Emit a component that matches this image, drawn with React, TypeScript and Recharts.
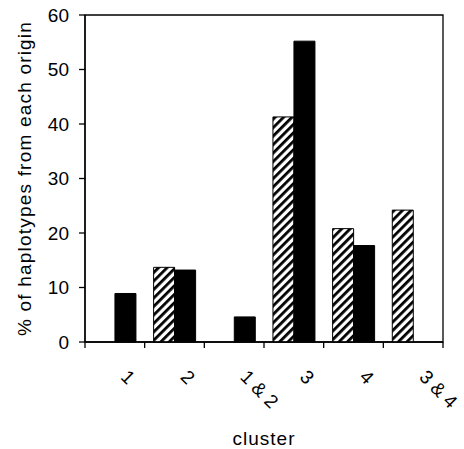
import React from "react";
import {
  BarChart,
  Bar,
  XAxis,
  YAxis,
  ReferenceArea,
} from "recharts";

const categories = ["1", "2", "1 & 2", "3", "4", "3 & 4"];
const hatchedValues = [0, 13.7, 0, 41.3, 20.8, 24.2];
const solidValues = [8.9, 13.2, 4.6, 55.2, 17.7, 0];
const yTicks = [0, 10, 20, 30, 40, 50, 60];

const data = categories.map((c, i) => ({
  cluster: c,
  hatched: hatchedValues[i],
  solid: solidValues[i],
}));

const FONT = "'Liberation Sans', Arial, sans-serif";
const W = 464;
const H = 449;
const M = { top: 15, right: 21, left: 0, bottom: 0 };
const Y_W = 85;
const BAND = (W - M.left - M.right - Y_W) / categories.length;

function ClusterTick(props: any) {
  const { x, y, payload, index } = props;
  const ax = x + 5;
  const ay = y + 36;
  return (
    <g>
      <line x1={x - BAND / 2} y1={y} x2={x - BAND / 2} y2={y + 6} stroke="#000" strokeWidth={1.3} />
      {index === categories.length - 1 && (
        <line x1={x + BAND / 2} y1={y} x2={x + BAND / 2} y2={y + 6} stroke="#000" strokeWidth={1.3} />
      )}
      <text
        x={ax}
        y={ay}
        transform={`rotate(45, ${ax}, ${ay})`}
        textAnchor="start"
        fontFamily={FONT}
        fontSize={19}
        fill="#000"
      >
        {payload.value}
      </text>
    </g>
  );
}

function YLabel(props: any) {
  const vb = props.viewBox;
  const cx = vb.x + 24;
  const cy = vb.y + vb.height / 2;
  return (
    <text
      x={cx}
      y={cy}
      transform={`rotate(-90, ${cx}, ${cy})`}
      textAnchor="middle"
      dominantBaseline="central"
      fontFamily={FONT}
      fontSize={19}
      letterSpacing={1.2}
      fill="#000"
    >
      % of haplotypes from each origin
    </text>
  );
}

function XLabel(props: any) {
  const vb = props.viewBox;
  return (
    <text
      x={vb.x + vb.width / 2}
      y={vb.y + 103}
      textAnchor="middle"
      fontFamily={FONT}
      fontSize={19}
      letterSpacing={1}
      fill="#000"
    >
      cluster
    </text>
  );
}

export default function App() {
  return (
    <div style={{ position: "absolute", left: 0, top: 0, background: "#fff" }}>
      <BarChart
        width={W}
        height={H}
        data={data}
        margin={M}
        barCategoryGap="15%"
        barGap={0}
      >
        <defs>
          <pattern
            id="hatch"
            patternUnits="userSpaceOnUse"
            width={6}
            height={6}
            patternTransform="rotate(45)"
          >
            <rect x={0} y={0} width={6} height={6} fill="#fff" />
            <rect x={0} y={0} width={2.8} height={6} fill="#000" />
          </pattern>
        </defs>
        <XAxis
          dataKey="cluster"
          height={107}
          axisLine={{ stroke: "#000", strokeWidth: 1.3 }}
          tickLine={false}
          tickSize={0}
          tickMargin={0}
          interval={0}
          tick={<ClusterTick />}
          label={{ content: <XLabel /> }}
        />
        <YAxis
          width={Y_W}
          domain={[0, 60]}
          ticks={yTicks}
          tickSize={6}
          tickMargin={10}
          axisLine={{ stroke: "#000", strokeWidth: 1.3 }}
          tickLine={{ stroke: "#000", strokeWidth: 1.3 }}
          tick={{ fill: "#000", fontSize: 19, fontFamily: FONT }}
          label={{ content: <YLabel /> }}
        />
        <ReferenceArea
          x1={categories[0]}
          x2={categories[categories.length - 1]}
          y1={0}
          y2={60}
          fill="none"
          fillOpacity={0}
          stroke="#000"
          strokeWidth={1.3}
        />
        <Bar
          dataKey="hatched"
          fill="url(#hatch)"
          stroke="#000"
          strokeWidth={1}
          isAnimationActive={false}
        />
        <Bar
          dataKey="solid"
          fill="#000"
          stroke="#000"
          strokeWidth={1}
          isAnimationActive={false}
        />
      </BarChart>
    </div>
  );
}
